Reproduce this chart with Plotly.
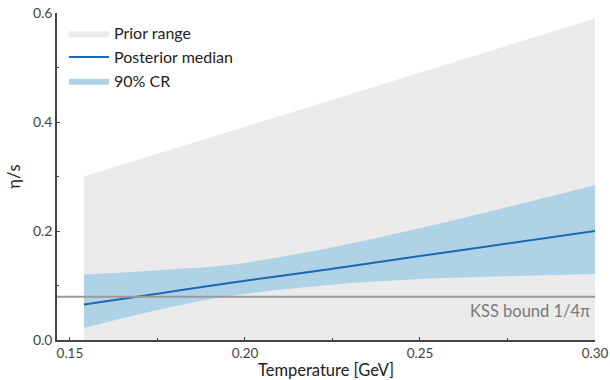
import numpy as np
import plotly.graph_objects as go

# Data
T_prior = [0.154, 0.30]
prior_lower = [0.0, 0.0]
prior_upper = [0.30, 0.59]

T = [0.154, 0.175, 0.196, 0.224, 0.25, 0.275, 0.30]
cr_lower = [0.022, 0.055, 0.081, 0.101, 0.112, 0.117, 0.121]
cr_upper = [0.120, 0.128, 0.138, 0.169, 0.205, 0.244, 0.284]
median = [0.065, 0.085, 0.105, 0.130, 0.154, 0.177, 0.200]

kss = 1 / (4 * np.pi)
x_ticks = [0.15, 0.20, 0.25, 0.30]
x_tick_labels = ["0.15", "0.20", "0.25", "0.30"]
y_ticks = [0.0, 0.2, 0.4, 0.6]
y_tick_labels = ["0.0", "0.2", "0.4", "0.6"]

FONT = "Lato"
PRIOR_C = "#ebebeb"
BAND_C = "#aed2e6"
MED_C = "#1f68b4"
AX_C = "#444444"
TXT_C = "#222222"

fig = go.Figure()
fig.add_trace(go.Scatter(x=T_prior, y=prior_lower, mode="lines", line=dict(width=0),
                         showlegend=False, hoverinfo="skip"))
fig.add_trace(go.Scatter(x=T_prior, y=prior_upper, mode="lines", line=dict(width=0),
                         fill="tonexty", fillcolor=PRIOR_C, name="Prior range", legendrank=1))
fig.add_trace(go.Scatter(x=T, y=cr_lower, mode="lines", line=dict(width=0, shape="spline"),
                         showlegend=False, hoverinfo="skip"))
fig.add_trace(go.Scatter(x=T, y=cr_upper, mode="lines", line=dict(width=0, shape="spline"),
                         fill="tonexty", fillcolor=BAND_C, name="90% CR", legendrank=3))
fig.add_trace(go.Scatter(x=T, y=median, mode="lines",
                         line=dict(width=2, color=MED_C, shape="spline"),
                         name="Posterior median", legendrank=2))

fig.add_shape(type="line", xref="paper", x0=0, x1=1, yref="y", y0=kss, y1=kss,
              line=dict(color="#9a9a9a", width=2), layer="above")
fig.add_annotation(x=0.30, y=kss, xref="x", yref="y", text="KSS bound 1/4π",
                   showarrow=False, xanchor="right", yanchor="top", xshift=-3, yshift=-2,
                   font=dict(family=FONT, size=16.5, color="#7a7a7a"))

fig.update_layout(
    width=610, height=380,
    margin=dict(l=57, r=15, t=13, b=40),
    paper_bgcolor="white", plot_bgcolor="white",
    font=dict(family=FONT, size=13, color=AX_C),
    legend=dict(x=0.013, y=0.99, xanchor="left", yanchor="top", xref="paper", yref="paper",
                bgcolor="rgba(0,0,0,0)", font=dict(family=FONT, size=16, color=TXT_C),
                traceorder="normal", itemwidth=40),
    showlegend=True,
)
fig.update_xaxes(range=[0.1463, 0.30], tickvals=x_ticks, ticktext=x_tick_labels,
                 automargin=False,
                 showgrid=False, zeroline=False, showline=True, linecolor=AX_C, linewidth=1.5,
                 ticks="inside", ticklen=3, tickcolor=AX_C,
                 minor=dict(tickvals=[0.175, 0.225, 0.275], ticks="inside", ticklen=2, tickcolor=AX_C),
                 title=dict(text="Temperature [GeV]", font=dict(family=FONT, size=16.5, color=TXT_C), standoff=6),
                 tickfont=dict(family=FONT, size=13.5, color=AX_C))
fig.update_yaxes(range=[0, 0.6], tickvals=y_ticks, ticktext=y_tick_labels,
                 automargin=False,
                 showgrid=False, zeroline=False, showline=True, linecolor=AX_C, linewidth=1.5,
                 ticks="inside", ticklen=3, tickcolor=AX_C,
                 minor=dict(tickvals=[0.1, 0.3, 0.5], ticks="inside", ticklen=2, tickcolor=AX_C),
                 title=dict(text="η/s", font=dict(family=FONT, size=16.5, color=TXT_C), standoff=8),
                 tickfont=dict(family=FONT, size=14, color=AX_C))

# remove the browser's default 8px body margin so the figure sits at the page origin
fig.write_html("out.html", config={"displayModeBar": False},
               post_script="document.body.style.margin='0';")
